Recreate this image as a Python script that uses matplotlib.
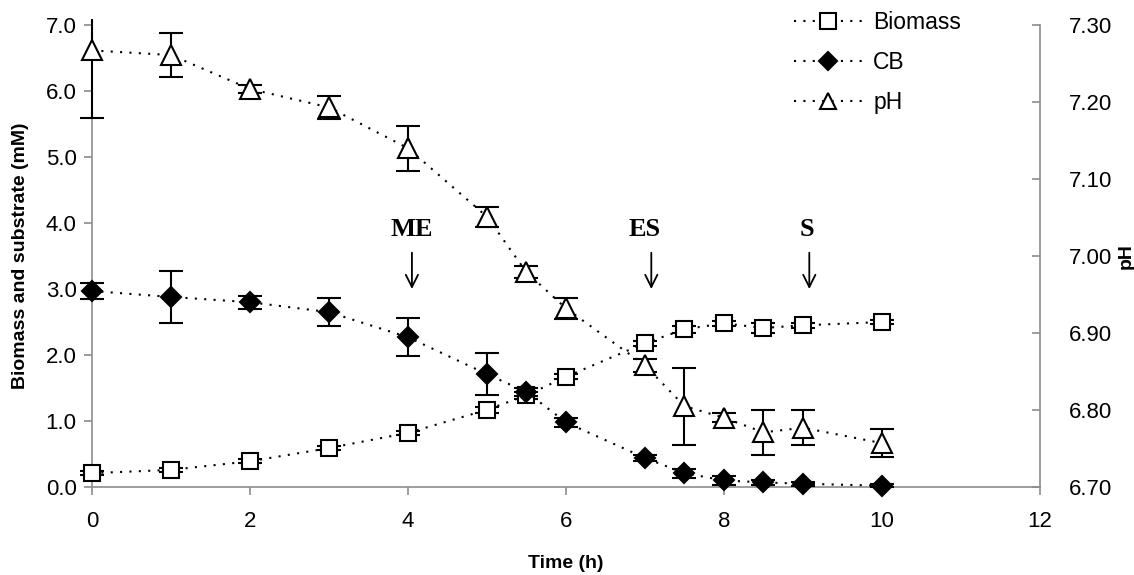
import matplotlib
matplotlib.use("Agg")
import matplotlib.pyplot as plt
from matplotlib.lines import Line2D
from matplotlib.transforms import Bbox, TransformedBbox

plt.rcParams['font.family'] = ['Liberation Sans', 'DejaVu Sans']

# Sampling times (h)
time_h = [0, 1, 2, 3, 4, 5, 5.5, 6, 7, 7.5, 8, 8.5, 9, 10]

# Biomass (mM)
biomass = [0.21, 0.26, 0.39, 0.59, 0.82, 1.17, 1.39, 1.67, 2.18, 2.39, 2.48, 2.41, 2.45, 2.50]
biomass_err = [0.03, 0.03, 0.03, 0.03, 0.03, 0.05, 0.05, 0.04, 0.04, 0.05, 0.04, 0.08, 0.04, 0.03]

# Cellobiose (mM)
cb = [2.97, 2.88, 2.80, 2.65, 2.27, 1.71, 1.44, 0.98, 0.44, 0.21, 0.10, 0.07, 0.05, 0.02]
cb_err = [0.12, 0.40, 0.10, 0.21, 0.29, 0.32, 0.06, 0.07, 0.05, 0.07, 0.07, 0.04, 0.03, 0.02]

# pH
ph = [7.267, 7.261, 7.217, 7.193, 7.140, 7.051, 6.979, 6.932, 6.858, 6.805, 6.790, 6.771, 6.777, 6.757]
ph_err = [0.088, 0.029, 0.005, 0.015, 0.029, 0.013, 0.008, 0.014, 0.008, 0.050, 0.006, 0.029, 0.023, 0.018]

# Growth phase markers (arrow time, label time)
phase_labels = ['ME', 'ES', 'S']
phase_times = [4.05, 7.08, 9.08]
phase_text_times = [4.05, 7.0, 9.05]

DOTTED = (0, (1, 3.5))
GRAY = '#8c8c8c'

fig = plt.figure(figsize=(11.34, 5.75), dpi=100)
ax = fig.add_axes([0.0811, 0.153, 0.836, 0.8035])
ax2 = ax.twinx()

common = dict(color='black', linestyle=DOTTED, linewidth=1.5, elinewidth=1.5,
              capsize=8.5, capthick=1.5, markeredgecolor='black', markeredgewidth=1.5)

eb_bio = ax.errorbar(time_h, biomass, yerr=biomass_err, marker='s', markersize=12,
                     markerfacecolor='white', zorder=3, **common)
eb_cb = ax.errorbar(time_h, cb, yerr=cb_err, marker='D', markersize=10,
                    markerfacecolor='black', zorder=3, **common)
eb_ph = ax2.errorbar(time_h, ph, yerr=ph_err, marker='^', markersize=14,
                     markerfacecolor='white', zorder=3, **common)

# let markers and caps at t=0 show in full over the y axis
for eb in (eb_bio, eb_cb):
    eb[0].set_clip_on(False)
    for cap in eb[1]:
        cap.set_clip_on(False)
eb_ph[0].set_clip_on(False)
ph_clip = TransformedBbox(Bbox([[-0.5, 6.6], [12.0, 7.308]]), ax2.transData)
for art in list(eb_ph[1]) + list(eb_ph[2]):
    art.set_clip_box(ph_clip)

ax.set_xlim(0, 12)
ax.set_ylim(0, 7)
ax2.set_ylim(6.70, 7.30)
ax.set_xticks(range(0, 13, 2))
ax.set_yticks([i * 1.0 for i in range(8)])
ax.set_yticklabels([f'{i:.1f}' for i in range(8)])
ph_ticks = [6.70, 6.80, 6.90, 7.00, 7.10, 7.20, 7.30]
ax2.set_yticks(ph_ticks)
ax2.set_yticklabels([f'{v:.2f}' for v in ph_ticks])

for a in (ax, ax2):
    a.spines['top'].set_visible(False)
    for s in a.spines.values():
        s.set_color(GRAY)
        s.set_linewidth(1.2)
ax.spines['right'].set_visible(False)
ax2.spines['left'].set_visible(False)
ax2.spines['bottom'].set_visible(False)

ax.tick_params(axis='both', labelsize=16, color=GRAY, width=1.2, length=6, direction='out')
ax.tick_params(axis='x', pad=11)
ax.tick_params(axis='y', pad=5)
ax2.tick_params(axis='y', labelsize=16, color=GRAY, width=1.2, length=6, direction='in', pad=21)

ax.set_xlabel('Time (h)', fontsize=14, fontweight='bold', labelpad=17)
ax.set_ylabel('Biomass and substrate (mM)', fontsize=14, fontweight='bold', labelpad=12)
# right-hand axis title sits tight against the figure edge
fig.text(0.9935, 0.555, 'pH', rotation=90, fontsize=14, fontweight='bold',
         ha='center', va='center')

for label, t, tx in zip(phase_labels, phase_times, phase_text_times):
    ax.annotate('', xy=(t, 3.0), xytext=(t, 3.55),
                arrowprops=dict(arrowstyle='->', color='black', lw=1.3,
                                mutation_scale=22, shrinkA=0, shrinkB=0))
    ax.text(tx, 3.9, label, fontsize=19, fontweight='bold',
            family=['Liberation Serif', 'DejaVu Serif'], ha='center', va='center')

handles = [
    Line2D([], [], color='black', linestyle=DOTTED, linewidth=1.5, marker='s',
           markersize=11, markerfacecolor='white', markeredgewidth=1.5),
    Line2D([], [], color='black', linestyle=DOTTED, linewidth=1.5, marker='D',
           markersize=9, markerfacecolor='black', markeredgewidth=1.5),
    Line2D([], [], color='black', linestyle=DOTTED, linewidth=1.5, marker='^',
           markersize=12, markerfacecolor='white', markeredgewidth=1.5),
]
fig.legend(handles, ['Biomass', 'CB', 'pH'], loc='upper left',
           bbox_to_anchor=(0.682, 1.017), frameon=False, fontsize=16.5,
           handlelength=3.0, handletextpad=0.45, labelspacing=0.75)

fig.savefig('out.png', dpi=100)
